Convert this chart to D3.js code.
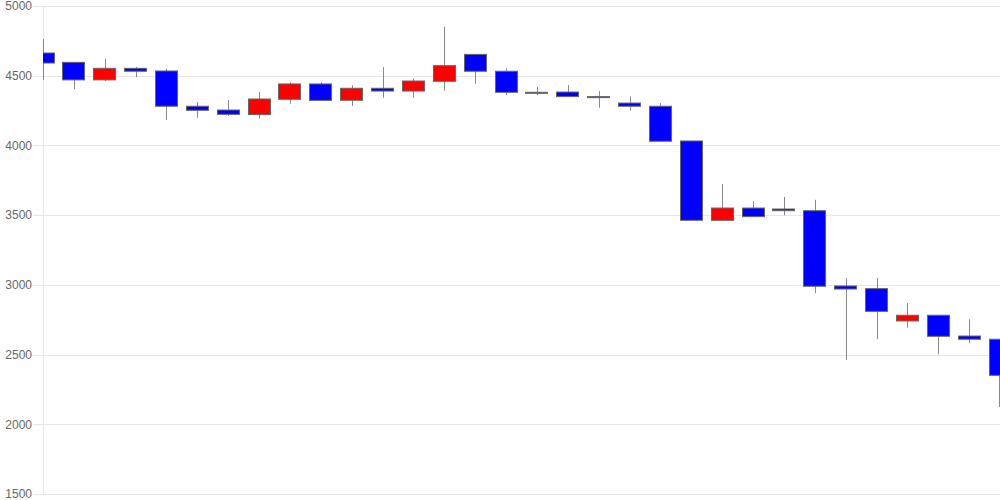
<!DOCTYPE html>
<html lang="en">

<head>
    <meta charset="UTF-8">
    <title>Candlestick</title>
    <style>
        body,
        html {
            margin: 0;
            padding: 0;
            background: #fff;
            overflow: hidden;
        }

        svg {
            display: block;
        }

        .axis text {
            font: 12px "Liberation Sans", Arial, sans-serif;
            fill: #666;
        }

        .grid line {
            stroke: #e6e6e6;
            shape-rendering: crispEdges;
        }
    </style>
</head>

<body>
    <svg width="1000" height="500"></svg>

    <script src="https://d3js.org/d3.v7.min.js"></script>
    <script>
        // daily prices
        const opens  = [4663, 4596, 4470, 4553, 4534, 4281, 4254, 4221, 4331, 4441, 4324, 4410, 4390, 4460, 4653, 4532,
                        4381, 4383, 4350, 4304, 4281, 4032, 3463, 3551, 3544, 3532, 2992, 2973, 2741, 2782, 2633, 2610];
        const highs  = [4763, 4596, 4620, 4562, 4550, 4311, 4326, 4383, 4453, 4453, 4431, 4562, 4481, 4852, 4653, 4553,
                        4421, 4433, 4390, 4352, 4304, 4032, 3723, 3601, 3630, 3610, 3049, 3049, 2870, 2782, 2753, 2610];
        const lows   = [4470, 4403, 4462, 4489, 4182, 4199, 4211, 4192, 4299, 4323, 4283, 4342, 4342, 4393, 4443, 4360,
                        4360, 4350, 4271, 4250, 4030, 3463, 3463, 3489, 3499, 2940, 2461, 2612, 2693, 2502, 2581, 2124];
        const closes = [4591, 4470, 4553, 4532, 4281, 4252, 4223, 4333, 4441, 4323, 4410, 4390, 4462, 4572, 4532, 4381,
                        4381, 4350, 4350, 4281, 4030, 3463, 3551, 3489, 3532, 2990, 2970, 2810, 2782, 2631, 2610, 2351];
        const yTicks = [1500, 2000, 2500, 3000, 3500, 4000, 4500, 5000];

        const candles = opens.map((o, i) => ({ i, o, h: highs[i], l: lows[i], c: closes[i] }));

        const width = 1000, height = 500;
        const margin = { top: 6, right: 0, bottom: 6, left: 43 };

        const svg = d3.select("svg");

        const x = d3.scalePoint()
            .domain(candles.map(d => d.i))
            .range([margin.left, width - margin.right]);

        const y = d3.scaleLinear()
            .domain([1500, 5000])
            .range([height - margin.bottom, margin.top]);

        const bodyW = 23;

        // grid lines + labels
        const yAxis = d3.axisLeft(y)
            .tickValues(yTicks)
            .tickSize(-(width - margin.left))
            .tickPadding(11)
            .tickFormat(d3.format("d"));

        const gY = svg.append("g")
            .attr("class", "axis grid")
            .attr("transform", `translate(${margin.left},0)`)
            .call(yAxis);
        gY.select(".domain").remove();
        gY.selectAll(".tick line").attr("x1", -10);

        svg.append("line")
            .attr("x1", margin.left + 0.5).attr("x2", margin.left + 0.5)
            .attr("y1", y(5000)).attr("y2", y(1500))
            .attr("stroke", "#e6e6e6");

        svg.append("clipPath").attr("id", "plot")
            .append("rect")
            .attr("x", margin.left).attr("y", 0)
            .attr("width", width - margin.left).attr("height", height);

        const g = svg.append("g").attr("clip-path", "url(#plot)");

        // wick x, kept inside the plot at both ends
        const wx = d => Math.min(Math.round(x(d.i)) + 0.5, width - 0.5);

        // wicks
        g.selectAll(".wick")
            .data(candles)
            .enter().append("line")
            .attr("class", "wick")
            .attr("x1", wx)
            .attr("x2", wx)
            .attr("y1", d => y(d.h))
            .attr("y2", d => y(d.l))
            .attr("stroke", "#888")
            .attr("stroke-width", 1);

        // bodies
        g.selectAll(".body")
            .data(candles)
            .enter().append("rect")
            .attr("class", "body")
            .attr("x", d => Math.round(x(d.i) - bodyW / 2) + 0.5)
            .attr("y", d => y(Math.max(d.o, d.c)))
            .attr("width", bodyW - 1)
            .attr("height", d => Math.max(1, Math.abs(y(d.o) - y(d.c))))
            .attr("fill", d => d.c > d.o ? "#ff0000" : "#0000ff")
            .attr("stroke", "#666")
            .attr("stroke-width", 1);
    </script>
</body>

</html>
